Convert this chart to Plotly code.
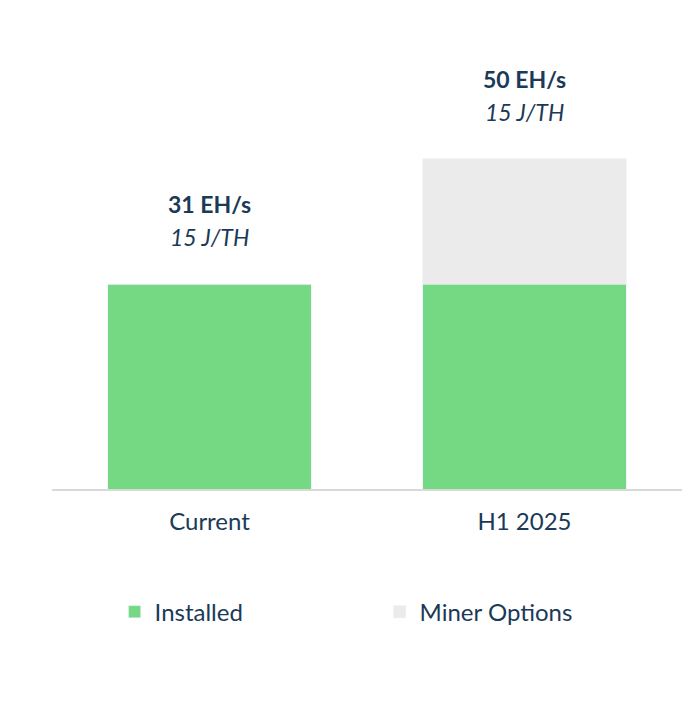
import plotly.graph_objects as go

categories = ["Current", "H1 2025"]
installed = [31, 31]
miner_options = [0, 19]
totals_labels = ["31 EH/s", "50 EH/s"]
eff_labels = ["15 J/TH", "15 J/TH"]

navy = "#1B3A57"
fig = go.Figure()
fig.add_bar(x=categories, y=installed, name="Installed", marker_color="#74D982", width=0.645)
fig.add_bar(x=categories, y=miner_options, name="Miner Options", marker_color="#EBEBEB", width=0.645)

totals = [a + b for a, b in zip(installed, miner_options)]
for c, t, l1, l2 in zip(categories, totals, totals_labels, eff_labels):
    fig.add_annotation(x=c, y=t, text="<b>" + l1 + "</b>", showarrow=False, yshift=80,
                       font=dict(size=23, color=navy))
    fig.add_annotation(x=c, y=t, text="<i>" + l2 + "</i>", showarrow=False, yshift=47,
                       font=dict(size=23, color=navy))

fig.update_layout(
    barmode="stack", width=696, height=718,
    margin=dict(l=44, r=22, t=32, b=237),
    plot_bgcolor="white", paper_bgcolor="white",
    font=dict(family="Lato, Open Sans, sans-serif", size=23, color=navy),
    xaxis=dict(showline=True, linecolor="#D9D9D9", linewidth=1.5, ticks="", tickfont=dict(size=24),
               ticklabelstandoff=10),
    yaxis=dict(visible=False, range=[0, 68]),
    legend=dict(orientation="h", x=0.52, xanchor="center", y=-0.274, yanchor="middle",
                font=dict(size=24, color=navy), traceorder="normal", itemwidth=30,
                entrywidth=220),
    showlegend=True,
)
fig.write_html("out.html")
